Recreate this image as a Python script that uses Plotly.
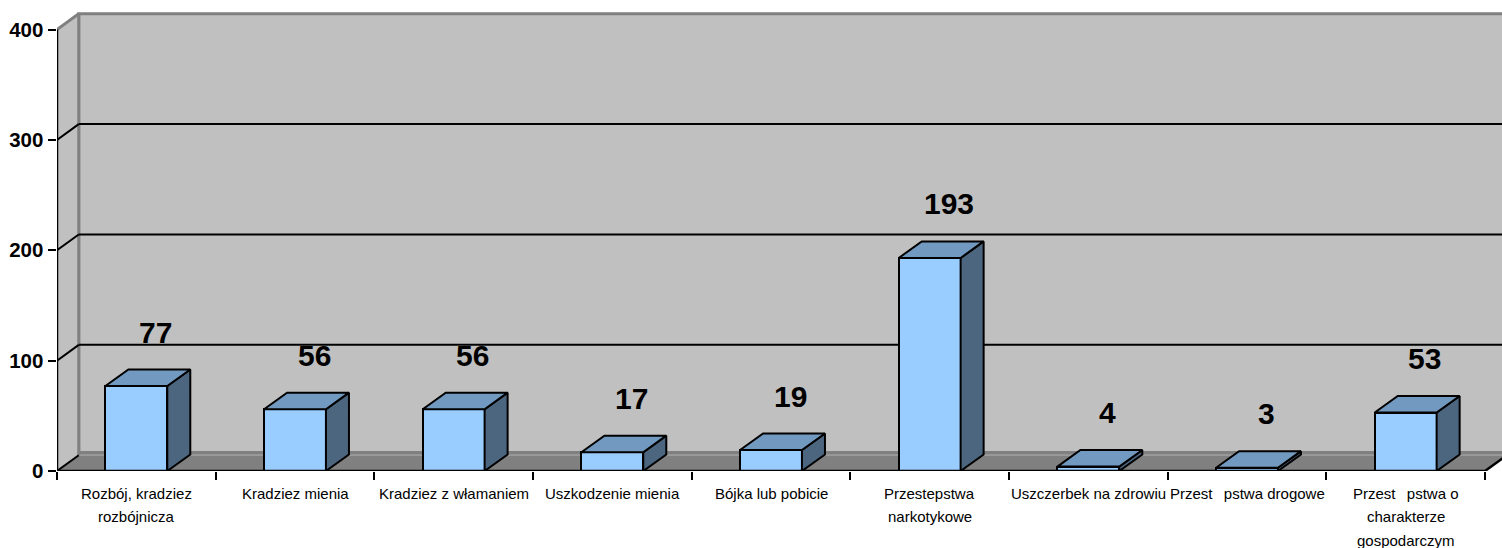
import plotly.graph_objects as go

# Category labels (one inner list per category, one entry per text line)
categories = [
    ["Rozbój, kradziez", "rozbójnicza"],
    ["Kradziez mienia"],
    ["Kradziez z włamaniem"],
    ["Uszkodzenie mienia"],
    ["Bójka lub pobicie"],
    ["Przestepstwa", "narkotykowe"],
    ["Uszczerbek na zdrowiu"],
    ["Przest\u00a0\u2009 pstwa drogowe"],
    ["Przest\u00a0\u2009 pstwa o", "charakterze", "gospodarczym"],
]
values = [77, 56, 56, 17, 19, 193, 4, 3, 53]
y_ticks = [0, 100, 200, 300, 400]

FONT = "Liberation Sans, Arial, sans-serif"

n = len(values)
centers = [i + 0.5 for i in range(n)]
bar_w = 0.39
# pseudo-3D depth offsets (x in category units, y in value units)
dx_wall, dy_wall = 0.137, 14.3
dx_bar, dy_bar = 0.145, 15.0
y_top = y_ticks[-1]
x_max = n + 0.107
y_max = 417.67

front_col = "#99CCFF"
top_col = "#7299BF"
side_col = "#4D6680"
wall_col = "#C0C0C0"
edge_col = "#808080"

shapes = []
# floor
shapes.append(dict(
    type="path", xref="x", yref="y", layer="below",
    path=f"M 0,0 L {n},0 L {n + dx_wall},{dy_wall} L {dx_wall},{dy_wall} Z",
    fillcolor=edge_col, line=dict(width=0)))
shapes.append(dict(
    type="line", xref="x", yref="y", layer="below",
    x0=dx_wall, y0=dy_wall + 1.0, x1=x_max + 1, y1=dy_wall + 1.0,
    line=dict(color="#969696", width=3)))
# back wall
shapes.append(dict(
    type="rect", xref="x", yref="y", layer="below",
    x0=dx_wall, y0=dy_wall + 2.5, x1=x_max + 1, y1=y_top + dy_wall,
    fillcolor=wall_col, line=dict(color=edge_col, width=3)))
# side wall
shapes.append(dict(
    type="path", xref="x", yref="y", layer="below",
    path=f"M 0,0 L 0,{y_top} L {dx_wall},{y_top + dy_wall} L {dx_wall},{dy_wall} Z",
    fillcolor=wall_col, line=dict(width=0)))
shapes.append(dict(
    type="line", xref="x", yref="y", layer="below",
    x0=0, y0=y_top, x1=dx_wall, y1=y_top + dy_wall,
    line=dict(color=edge_col, width=3)))
shapes.append(dict(
    type="line", xref="x", yref="y", layer="below",
    x0=dx_wall, y0=dy_wall, x1=dx_wall, y1=y_top + dy_wall,
    line=dict(color=edge_col, width=3)))
# gridlines on the walls
for v in y_ticks[:-1]:
    shapes.append(dict(
        type="line", xref="x", yref="y", layer="below",
        x0=0, y0=v, x1=dx_wall, y1=v + dy_wall,
        line=dict(color="black", width=2)))
    if v > 0:
        shapes.append(dict(
            type="line", xref="x", yref="y", layer="below",
            x0=dx_wall, y0=v + dy_wall, x1=x_max + 1, y1=v + dy_wall,
            line=dict(color="black", width=2)))

fig = go.Figure()

# front faces
fig.add_trace(go.Bar(
    x=centers, y=values, width=bar_w,
    marker=dict(color=front_col, line=dict(color="black", width=2)),
    hoverinfo="skip", showlegend=False))

# top and side faces
top_x, top_y, side_x, side_y = [], [], [], []
for c, v in zip(centers, values):
    l, r = c - bar_w / 2, c + bar_w / 2
    top_x += [l, l + dx_bar, r + dx_bar, r, l, None]
    top_y += [v, v + dy_bar, v + dy_bar, v, v, None]
    side_x += [r, r + dx_bar, r + dx_bar, r, r, None]
    side_y += [0, dy_bar, v + dy_bar, v, 0, None]

fig.add_trace(go.Scatter(
    x=side_x, y=side_y, mode="lines", fill="toself", fillcolor=side_col,
    line=dict(color="black", width=2), hoverinfo="skip", showlegend=False))
fig.add_trace(go.Scatter(
    x=top_x, y=top_y, mode="lines", fill="toself", fillcolor=top_col,
    line=dict(color="black", width=2), hoverinfo="skip", showlegend=False))

# axis lines
fig.add_trace(go.Scatter(
    x=[0, 0, None, 0, n, n + dx_wall],
    y=[y_top, 0, None, 0, 0, dy_wall],
    mode="lines", line=dict(color="black", width=2.5),
    cliponaxis=False, hoverinfo="skip", showlegend=False))

annotations = []
# value labels
for c, v in zip(centers, values):
    annotations.append(dict(
        x=c + 0.12, y=v, xref="x", yref="y", yshift=54,
        text=str(v), showarrow=False,
        font=dict(family=FONT, size=30, color="black", weight="bold")))
# category labels
for c, lines in zip(centers, categories):
    for j, line in enumerate(lines):
        annotations.append(dict(
            x=c, y=0, xref="x", yref="y", yanchor="middle",
            yshift=-(22 + 23.5 * j),
            text=line, showarrow=False,
            font=dict(family=FONT, size=15, color="black")))

fig.update_layout(
    width=1502, height=548,
    margin=dict(l=57, r=0, t=10, b=77),
    paper_bgcolor="white", plot_bgcolor="white",
    shapes=shapes, annotations=annotations,
    bargap=0,
    xaxis=dict(
        range=[0, x_max], showgrid=False, zeroline=False, showline=False,
        tickvals=centers, showticklabels=False, ticks="",
        minor=dict(tickvals=list(range(n + 1)), ticks="outside",
                   ticklen=8, tickwidth=2, tickcolor="black", showgrid=False),
        fixedrange=True),
    yaxis=dict(
        range=[0, y_max], showgrid=False, zeroline=False, showline=False,
        tickvals=y_ticks, ticks="outside", ticklen=8.5, tickwidth=2,
        tickcolor="black",
        tickfont=dict(family=FONT, size=20.5, color="black", weight="bold"),
        fixedrange=True),
)

fig.write_html("out.html")
